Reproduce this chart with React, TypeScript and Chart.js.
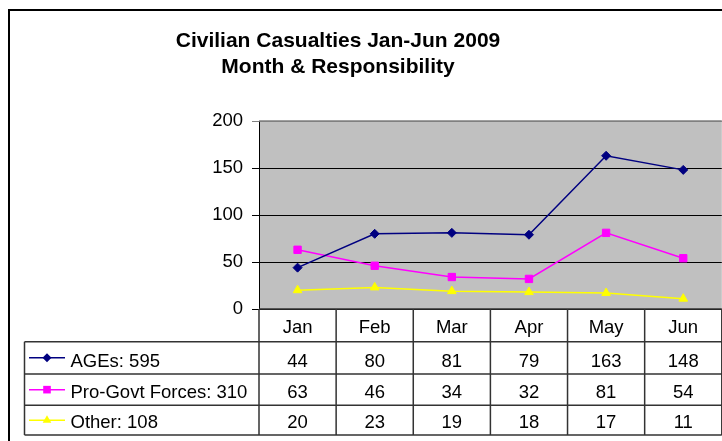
import React, { useEffect, useRef } from 'react';
import { Chart, registerables } from 'chart.js';

Chart.register(...registerables);

const months = ['Jan', 'Feb', 'Mar', 'Apr', 'May', 'Jun'];
const agesValues = [44, 80, 81, 79, 163, 148];
const proGovtValues = [63, 46, 34, 32, 81, 54];
const otherValues = [20, 23, 19, 18, 17, 11];
const seriesLabels = ['AGEs: 595', 'Pro-Govt Forces: 310', 'Other: 108'];
const seriesColors = ['#000080', '#FF00FF', '#FFFF00'];
const seriesStyles = ['rectRot', 'rect', 'triangle'];
const titleLines = ['Civilian Casualties Jan-Jun 2009', 'Month & Responsibility'];
const yMin = 0;
const yMax = 200;
const yStep = 50;

const FONT = 'Arial, "Liberation Sans", sans-serif';
const CANVAS_W = 728;

function drawMarker(ctx: CanvasRenderingContext2D, style: string, x: number, y: number, color: string) {
  ctx.save();
  ctx.fillStyle = color;
  ctx.strokeStyle = color;
  ctx.beginPath();
  if (style === 'rectRot') {
    const r = 4.5;
    ctx.moveTo(x, y - r);
    ctx.lineTo(x + r, y);
    ctx.lineTo(x, y + r);
    ctx.lineTo(x - r, y);
    ctx.closePath();
  } else if (style === 'rect') {
    const s = 3.8;
    ctx.rect(x - s, y - s, 2 * s, 2 * s);
  } else {
    const r = 5;
    ctx.moveTo(x, y - r);
    ctx.lineTo(x + r * 0.866, y + r * 0.5);
    ctx.lineTo(x - r * 0.866, y + r * 0.5);
    ctx.closePath();
  }
  ctx.fill();
  ctx.restore();
}

const excelPlugin = {
  id: 'excelLook',
  beforeDraw(chart: any) {
    const { ctx, chartArea } = chart;
    ctx.save();
    ctx.fillStyle = '#FFFFFF';
    ctx.fillRect(0, 0, chart.width, chart.height);
    ctx.fillStyle = '#C0C0C0';
    ctx.fillRect(chartArea.left, chartArea.top, chartArea.right - chartArea.left, chartArea.bottom - chartArea.top);
    ctx.restore();
  },
  afterDraw(chart: any) {
    const { ctx, chartArea } = chart;
    const xScale = chart.scales.x;
    ctx.save();

    // plot area top border (gray)
    ctx.strokeStyle = '#808080';
    ctx.lineWidth = 1.5;
    ctx.beginPath();
    ctx.moveTo(chartArea.left, chartArea.top);
    ctx.lineTo(chartArea.right, chartArea.top);
    ctx.stroke();

    // title
    ctx.fillStyle = '#000';
    ctx.font = `bold 21px ${FONT}`;
    ctx.textAlign = 'center';
    ctx.textBaseline = 'alphabetic';
    ctx.fillText(titleLines[0], 338, 47);
    ctx.fillText(titleLines[1], 338, 72.5);

    // data table
    const centers = months.map((_, i) => xScale.getPixelForValue(i));
    const bounds: number[] = [chartArea.left];
    for (let i = 1; i < centers.length; i++) bounds.push((centers[i - 1] + centers[i]) / 2);
    bounds.push(chartArea.right);

    const tableLeft = 24.5;
    const rowLines = [chartArea.bottom, 341.7, 374, 405.3, 435];
    const baselines = [333, 366.5, 397.5, 428.3];

    ctx.strokeStyle = '#333333';
    ctx.lineWidth = 1.5;
    ctx.beginPath();
    ctx.moveTo(chartArea.left, rowLines[0]);
    ctx.lineTo(chartArea.right, rowLines[0]);
    for (let r = 1; r < rowLines.length; r++) {
      ctx.moveTo(tableLeft, rowLines[r]);
      ctx.lineTo(chartArea.right, rowLines[r]);
    }
    ctx.moveTo(tableLeft, rowLines[1]);
    ctx.lineTo(tableLeft, rowLines[4]);
    for (let b = 0; b < bounds.length; b++) {
      ctx.moveTo(bounds[b], rowLines[0]);
      ctx.lineTo(bounds[b], rowLines[4]);
    }
    ctx.stroke();

    ctx.font = `18.5px ${FONT}`;
    ctx.fillStyle = '#000';
    ctx.textAlign = 'center';
    months.forEach((m, i) => ctx.fillText(m, centers[i], baselines[0]));
    const allValues = [agesValues, proGovtValues, otherValues];
    allValues.forEach((vals, r) => {
      vals.forEach((v, i) => ctx.fillText(String(v), centers[i], baselines[r + 1]));
    });

    allValues.forEach((_, r) => {
      const cy = (rowLines[r + 1] + rowLines[r + 2]) / 2;
      ctx.strokeStyle = seriesColors[r];
      ctx.lineWidth = 1.5;
      ctx.beginPath();
      ctx.moveTo(29, cy);
      ctx.lineTo(65, cy);
      ctx.stroke();
      drawMarker(ctx, seriesStyles[r], 47, cy, seriesColors[r]);
      ctx.fillStyle = '#000';
      ctx.textAlign = 'left';
      ctx.fillText(seriesLabels[r], 70.5, baselines[r + 1]);
    });

    ctx.strokeStyle = '#000';
    ctx.lineWidth = 2;
    ctx.beginPath();
    ctx.moveTo(9, chart.height + 5);
    ctx.lineTo(9, 10);
    ctx.lineTo(chart.width + 5, 10);
    ctx.stroke();

    ctx.restore();
  },
};

export default function App() {
  const canvasRef = useRef<HTMLCanvasElement | null>(null);

  useEffect(() => {
    if (!canvasRef.current) return;
    const makeDataset = (label: string, data: number[], idx: number, radius: number) => ({
      label,
      data,
      borderColor: seriesColors[idx],
      backgroundColor: seriesColors[idx],
      pointBackgroundColor: seriesColors[idx],
      pointBorderColor: seriesColors[idx],
      pointStyle: seriesStyles[idx],
      pointRadius: radius,
      pointBorderWidth: 1,
      borderWidth: 1.5,
      tension: 0,
      fill: false,
    });
    const chart = new Chart(canvasRef.current, {
      type: 'line',
      data: {
        labels: months,
        datasets: [
          makeDataset(seriesLabels[0], agesValues, 0, 4.5),
          makeDataset(seriesLabels[1], proGovtValues, 1, 5.2),
          makeDataset(seriesLabels[2], otherValues, 2, 5),
        ],
      },
      options: {
        responsive: false,
        animation: false,
        devicePixelRatio: 1,
        layout: { padding: { left: 0, top: 121, right: 0, bottom: 132 } },
        plugins: {
          legend: { display: false },
          title: { display: false },
          tooltip: { enabled: false },
        },
        scales: {
          x: {
            type: 'category',
            display: false,
            offset: true,
          },
          y: {
            min: yMin,
            max: yMax,
            afterFit: (scale: any) => {
              scale.width = 259;
            },
            ticks: {
              stepSize: yStep,
              color: '#000',
              font: { family: FONT, size: 18.5 },
              padding: 9,
            },
            grid: {
              color: (c: any) => (c.tick && c.tick.value === yMax ? '#808080' : '#000000'),
              lineWidth: 1,
              tickLength: 7,
              drawOnChartArea: true,
              drawTicks: true,
            },
            border: { display: true, color: '#000000', width: 1 },
          },
        },
      } as any,
      plugins: [excelPlugin],
    });
    return () => chart.destroy();
  }, []);

  return (
    <div style={{ position: 'absolute', left: 0, top: 0, width: 722, height: 441, overflow: 'hidden' }}>
      <canvas ref={canvasRef} width={CANVAS_W} height={441} style={{ display: 'block', width: CANVAS_W, height: 441 }} />
    </div>
  );
}
